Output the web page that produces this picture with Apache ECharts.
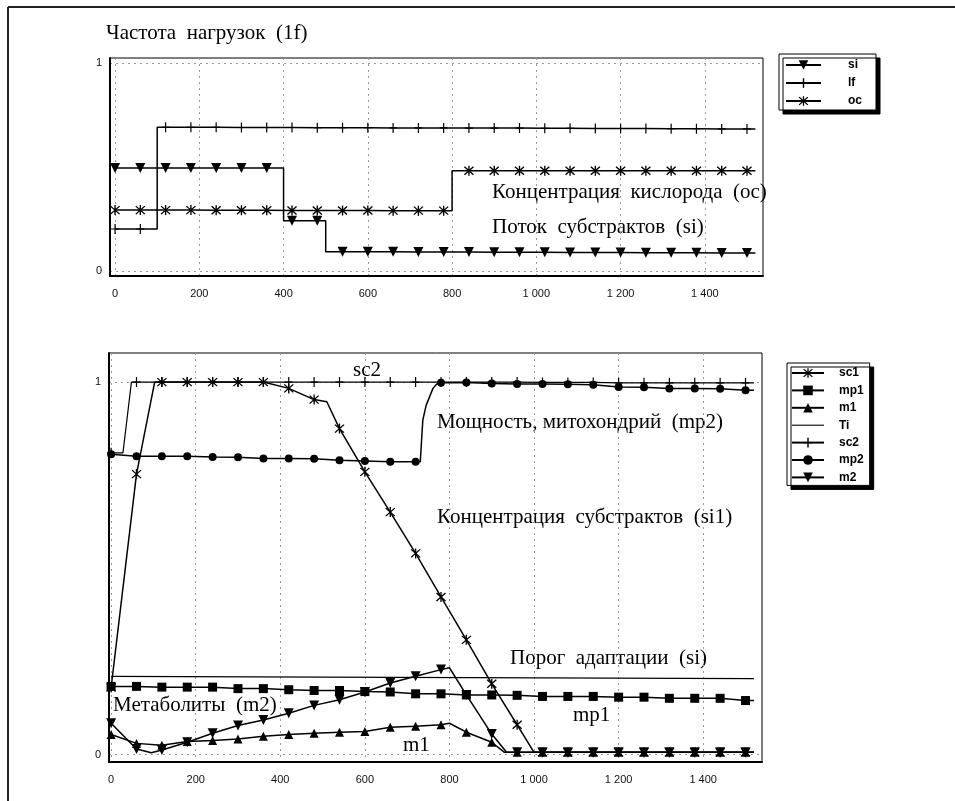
<!DOCTYPE html>
<html>
<head>
<meta charset="utf-8">
<script src="https://cdn.jsdelivr.net/npm/echarts@6/dist/echarts.min.js"></script>
<style>
  html,body{margin:0;padding:0;background:#fff;}
  #chart{width:955px;height:801px;}
</style>
</head>
<body>
<div id="chart"></div>
<script>
//шаг маркеров по оси x (общий для обоих графиков)
var markX=[0,60,120,180,240,300,360,420,480,540,600,660,720,780,840,900,960,1020,1080,1140,1200,1260,1320,1380,1440,1500];
var xTicks=[0,200,400,600,800,1000,1200,1400];

//верхний график: частота нагрузок
var siTop=[0.495,0.495,0.495,0.495,0.495,0.495,0.495,0.242,0.242,0.092,0.092,0.092,0.091,0.091,0.091,0.09,0.09,0.09,0.089,0.089,0.089,0.088,0.088,0.088,0.087,0.087];
var siTopBreaks=[[400,0.495],[400,0.242],[500,0.242],[500,0.092],[1520,0.087]];
var lfTop=[0.202,0.202,0.691,0.691,0.691,0.690,0.690,0.690,0.689,0.689,0.689,0.688,0.688,0.688,0.687,0.687,0.687,0.686,0.686,0.685,0.685,0.685,0.684,0.684,0.683,0.683];
var lfTopBreaks=[[100,0.202],[100,0.691],[1520,0.683]];
var ocTop=[0.293,0.293,0.293,0.293,0.292,0.292,0.292,0.291,0.291,0.291,0.291,0.290,0.290,0.290,0.482,0.482,0.482,0.482,0.482,0.482,0.482,0.482,0.482,0.482,0.482,0.482];
var ocTopBreaks=[[800,0.29],[800,0.482],[1520,0.482]];

//нижний график
var sc1=[0.18,0.753,1.0,1.0,1.0,1.0,1.0,0.983,0.953,0.875,0.759,0.651,0.54,0.423,0.308,0.19,0.08,0.006,0.006,0.006,0.006,0.006,0.006,0.006,0.006,0.006];
var sc1Breaks=[[103,1.0],[510,0.947],[1000,0.006],[1520,0.006]];
var mp1=[0.183,0.183,0.181,0.181,0.181,0.177,0.177,0.174,0.172,0.172,0.169,0.168,0.163,0.163,0.16,0.16,0.159,0.156,0.156,0.156,0.154,0.154,0.151,0.151,0.151,0.145];
var mp1Breaks=[[1520,0.145]];
var m1=[0.054,0.03,0.025,0.035,0.038,0.042,0.049,0.054,0.057,0.06,0.062,0.073,0.076,0.08,0.06,0.033,0.006,0.006,0.006,0.006,0.006,0.006,0.006,0.006,0.006,0.006];
var m1Breaks=[[800,0.084],[930,0.006],[1520,0.006]];
var tiX=[0,1520];
var tiY=[0.21,0.204];
var sc2=[0.81,1.0,1.0,1.0,1.0,1.0,1.0,1.0,1.0,1.0,1.0,1.0,1.0,1.0,1.0,1.0,1.0,0.999,0.999,0.999,0.998,0.998,0.998,0.998,0.998,0.998];
var sc2Breaks=[[28,0.81],[48,1.0],[1520,0.998]];
var mp2=[0.806,0.801,0.801,0.801,0.799,0.798,0.795,0.795,0.794,0.79,0.788,0.786,0.786,0.998,0.999,0.996,0.995,0.995,0.994,0.993,0.987,0.986,0.983,0.983,0.982,0.978];
var mp2Breaks=[[731,0.786],[737,0.898],[745,0.938],[761,0.983],[770,0.995],[1520,0.978]];
var m2=[0.084,0.015,0.012,0.033,0.057,0.078,0.093,0.111,0.132,0.147,0.168,0.192,0.21,0.228,0.16,0.055,0.006,0.006,0.006,0.006,0.006,0.006,0.006,0.006,0.006,0.006];
var m2Breaks=[[95,0.005],[800,0.233],[935,0.006],[1520,0.006]];

//символы маркеров
var STAR='path://M4.4,0L5.6,0L5.6,10L4.4,10Z M1.42,0.58L9.42,8.58L8.58,9.42L0.58,1.42Z M8.58,0.58L9.42,1.42L1.42,9.42L0.58,8.58Z';
var PLUS='path://M4.4,0L5.6,0L5.6,10L4.4,10Z M1,4.4L9,4.4L9,5.6L1,5.6Z';
var TRI_DOWN='path://M0,0L10,0L5,9Z';
var SERIF='"Liberation Serif", "DejaVu Serif", serif';

//точки с маркерами + точки излома без маркера
function build(xs,ys,breaks){
    var pts=[];
    for(var i=0;i<xs.length;i++){
        pts.push({value:[xs[i],ys[i]]});
    }
    for(var j=0;j<breaks.length;j++){
        pts.push({value:breaks[j],symbol:'none'});
    }
    pts.sort(function(a,b){return a.value[0]-b.value[0];});
    return pts;
}

function line(name,idx,data,symbol,size,width){
    return {
        name:name,
        type:'line',
        xAxisIndex:idx,
        yAxisIndex:idx,
        data:data,
        symbol:symbol,
        symbolSize:size,
        showSymbol:true,
        showAllSymbol:true,
        lineStyle:{color:'#000',width:width},
        itemStyle:{color:'#000'},
        emphasis:{disabled:true},
        animation:false
    };
}

function xAxis(idx,min,max){
    return {
        type:'value',gridIndex:idx,min:min,max:max,
        axisLine:{show:true,onZero:false,lineStyle:{color:'#000',width:2}},
        axisTick:{show:false,customValues:xTicks},
        axisLabel:{customValues:xTicks,margin:12,color:'#111',fontSize:11,fontFamily:'"Liberation Sans", Arial, sans-serif',
            formatter:function(v){return v>=1000?Math.floor(v/1000)+' '+String(v%1000).padStart(3,'0'):String(v);}},
        splitLine:{show:true,lineStyle:{color:'#999',type:[2,4],width:1}}
    };
}
function yAxis(idx,min,max){
    return {
        type:'value',gridIndex:idx,min:min,max:max,
        axisLine:{show:true,onZero:false,lineStyle:{color:'#000',width:2}},
        axisTick:{show:false,customValues:[0,1]},
        axisLabel:{customValues:[0,1],margin:8,color:'#111',fontSize:11,fontFamily:'"Liberation Sans", Arial, sans-serif'},
        splitLine:{show:true,lineStyle:{color:'#999',type:[2,4],width:1}}
    };
}

function txt(text,x,y,size){
    return {type:'text',style:{text:text,x:x,y:y,fill:'#000',font:(size||21)+'px '+SERIF,verticalAlign:'middle'}};
}

var legendBase={
    orient:'vertical',
    itemWidth:34,itemHeight:12,
    backgroundColor:'#fff',borderColor:'#000',borderWidth:1,
    shadowColor:'#000',shadowBlur:0,shadowOffsetX:4,shadowOffsetY:4,
    textStyle:{fontFamily:'"Liberation Sans", Arial, sans-serif',fontWeight:'bold',fontSize:12,color:'#000'}
};

var chart=echarts.init(document.getElementById('chart'));
var option={
    backgroundColor:'#fff',
    animation:false,
    grid:[
        {left:110,top:58,width:653,height:218,show:true,borderColor:'#000',borderWidth:1},
        {left:109,top:353,width:653,height:409,show:true,borderColor:'#000',borderWidth:1}
    ],
    xAxis:[xAxis(0,-12,1538),xAxis(1,-5,1539)],
    yAxis:[yAxis(0,-0.024,1.024),yAxis(1,-0.02,1.078)],
    legend:[
        Object.assign({},legendBase,{data:['si','lf','oc'],left:779,top:54,itemGap:6,padding:[5,14,3,6],itemWidth:35,
            textStyle:Object.assign({},legendBase.textStyle,{padding:[0,0,0,22]})}),
        Object.assign({},legendBase,{data:['sc1','mp1','m1',{name:'Ti',icon:'path://M0,0L32,0L32,1.1L0,1.1Z'},'sc2','mp2','m2'],left:787,top:363,itemGap:5.4,padding:[4,6,2,4],itemWidth:32,
            textStyle:Object.assign({},legendBase.textStyle,{padding:[0,0,0,10]})})
    ],
    series:[
        line('si',0,build(markX,siTop,siTopBreaks),TRI_DOWN,10,1.5),
        line('lf',0,build(markX,lfTop,lfTopBreaks),PLUS,[8,10],1.5),
        line('oc',0,build(markX,ocTop,ocTopBreaks),STAR,10,1.5),
        line('sc1',1,build(markX,sc1,sc1Breaks),STAR,10,1.5),
        line('mp1',1,build(markX,mp1,mp1Breaks),'rect',9,1.5),
        line('m1',1,build(markX,m1,m1Breaks),'triangle',9,1.5),
        line('Ti',1,build(tiX,tiY,[]),'none',0,1.2),
        line('sc2',1,build(markX,sc2,sc2Breaks),PLUS,[8,10],1.2),
        line('mp2',1,build(markX,mp2,mp2Breaks),'circle',8,1.5),
        line('m2',1,build(markX,m2,m2Breaks),TRI_DOWN,10,1.5)
    ],
    graphic:[
        {type:'line',shape:{x1:8,y1:7,x2:955,y2:7},style:{stroke:'#222',lineWidth:2}},
        {type:'line',shape:{x1:8,y1:7,x2:8,y2:801},style:{stroke:'#222',lineWidth:2}},
        txt('Частота  нагрузок  (1f)',106,33),
        txt('Концентрация  кислорода  (oc)',492,192),
        txt('Поток  субстрактов  (si)',492,227),
        txt('sc2',353,370),
        txt('Мощность, митохондрий  (mp2)',437,422),
        txt('Концентрация  субстрактов  (si1)',437,517),
        txt('Порог  адаптации  (si)',510,658),
        txt('mp1',573,715),
        txt('Метаболиты  (m2)',113,705),
        txt('m1',403,745)
    ]
};
chart.setOption(option);
</script>
</body>
</html>
